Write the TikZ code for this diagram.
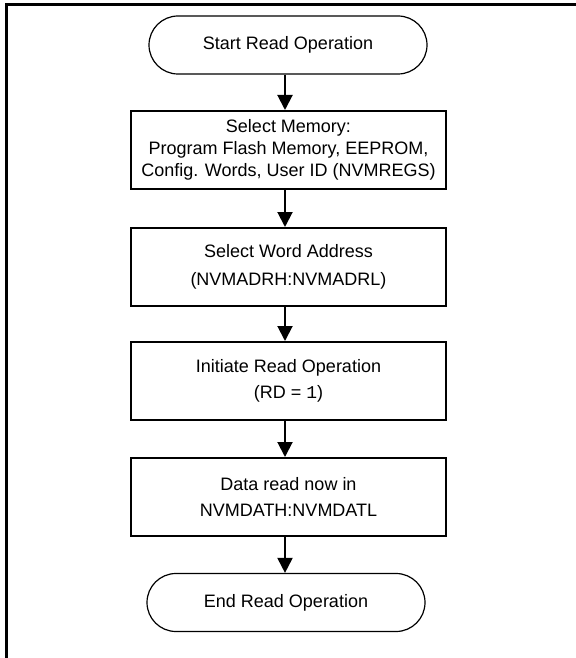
\documentclass[tikz,border=0pt]{standalone}
\usepackage{fontspec}
\setmainfont{Liberation Sans}
\newfontfamily\codefont{Liberation Mono}
\usetikzlibrary{arrows.meta}

\begin{document}
\begin{tikzpicture}[
    x=0.5pt, y=-0.5pt,
    font=\fontsize{9}{11}\selectfont,
    box/.style={draw, line width=1pt, minimum width=157.5pt, minimum height=39pt, inner sep=2pt, align=center},
    term/.style={draw, line width=0.6pt, rounded corners=14.5pt, minimum width=139pt, minimum height=29pt, align=center},
    arr/.style={-{Triangle[length=7.5pt, width=7.5pt]}, line width=1pt},
]
\useasboundingbox (0,0) rectangle (576,658);

% ============ frame ============
\draw[line width=1.5pt] (580,5) -- (6,5) -- (6,662);

% ============ flow ============
\node[term] (start) at (288, 45)    {Start Read Operation};
\node[box]  (mem)   at (288.5, 150) {Select Memory:\\ Program Flash Memory, EEPROM,\\ Config. Words, User ID (NVMREGS)};
\node[box]  (addr)  at (288.5, 267) {Select Word Address\\[3pt] (NVMADRH:NVMADRL)};
\node[box]  (rd)    at (288.5, 381) {Initiate Read Operation\\[2pt] (RD = {\codefont 1})};
\node[box]  (data)  at (288.5, 497) {Data read now in\\[2pt] NVMDATH:NVMDATL};
\node[term] (stop)  at (286, 602.5) {End Read Operation};

\coordinate (axis) at (285, 0);
\draw[arr] (start.south -| axis) -- (mem.north -| axis);
\draw[arr] (mem.south -| axis) -- (addr.north -| axis);
\draw[arr] (addr.south -| axis) -- (rd.north -| axis);
\draw[arr] (rd.south -| axis) -- (data.north -| axis);
\draw[arr] (data.south -| axis) -- (stop.north -| axis);

\end{tikzpicture}
\end{document}
